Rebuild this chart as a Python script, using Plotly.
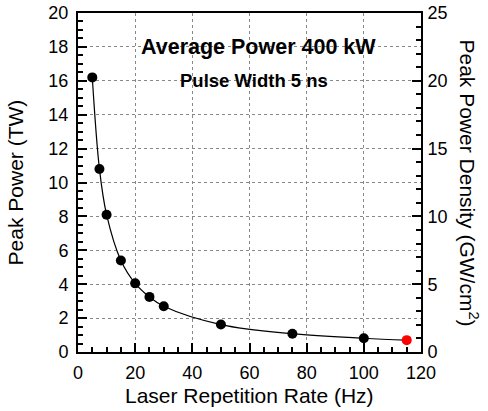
import plotly.graph_objects as go

rate_hz = [5, 7.5, 10, 15, 20, 25, 30, 50, 75, 100, 115]
peak_tw = [16.2, 10.8, 8.1, 5.4, 4.05, 3.25, 2.7, 1.62, 1.08, 0.81, 0.7]
marker_colors = ["black"] * 10 + ["red"]

x_range = [0, 120]
y_range = [0, 20]
y2_range = [0, 25]

FONT = "Liberation Sans, Arial, sans-serif"

fig = go.Figure()
fig.add_trace(go.Scatter(x=rate_hz, y=peak_tw, mode="lines",
                         line=dict(color="black", width=1.2, shape="spline", smoothing=1.0),
                         showlegend=False, hoverinfo="skip"))
fig.add_trace(go.Scatter(x=rate_hz, y=peak_tw, mode="markers",
                         marker=dict(color=marker_colors, size=10),
                         showlegend=False))
fig.add_trace(go.Scatter(x=[0], y=[0], yaxis="y2", mode="markers",
                         marker=dict(opacity=0), showlegend=False, hoverinfo="skip"))

axis_common = dict(showline=True, linecolor="black", linewidth=2, ticks="inside",
                   tickcolor="black", tickwidth=1.5, ticklen=9,
                   tickfont=dict(size=18, color="black", family=FONT),
                   zeroline=False, automargin=False)

fig.update_layout(
    width=488, height=411,
    margin=dict(l=78, r=67, t=13, b=59, autoexpand=False),
    plot_bgcolor="white", paper_bgcolor="white",
    font=dict(family=FONT, color="black"),
    xaxis=dict(range=x_range, dtick=20, mirror=True,
               showgrid=True, gridcolor="#888888", griddash="dot", gridwidth=1,
               minor=dict(ticks="inside", dtick=5, ticklen=5, tickcolor="black", showgrid=False),
               ticklabelstandoff=3,
               **axis_common),
    yaxis=dict(range=y_range, dtick=2,
               showgrid=True, gridcolor="#888888", griddash="dot", gridwidth=1,
               minor=dict(ticks="inside", dtick=0.5, ticklen=5, tickcolor="black", showgrid=False),
               ticklabelstandoff=4,
               **axis_common),
    yaxis2=dict(range=y2_range, dtick=5, overlaying="y", side="right", showgrid=False,
                minor=dict(ticks="inside", dtick=1, ticklen=5, tickcolor="black"),
                ticklabelstandoff=1,
                **axis_common),
    annotations=[
        dict(text="<b>Average Power 400 kW</b>", x=0.525, y=0.90, xref="paper", yref="paper",
             showarrow=False, font=dict(size=21.5, color="black"), xanchor="center", yanchor="middle"),
        dict(text="<b>Pulse Width 5 ns</b>", x=0.512, y=0.80, xref="paper", yref="paper",
             showarrow=False, font=dict(size=18.5, color="black"), xanchor="center", yanchor="middle"),
        dict(text="Laser Repetition Rate (Hz)", x=0.501, y=-0.128, xref="paper", yref="paper",
             showarrow=False, font=dict(size=21, color="black"), xanchor="center", yanchor="middle"),
        dict(text="Peak Power (TW)", x=-0.181, y=0.5, xref="paper", yref="paper",
             showarrow=False, textangle=-90, font=dict(size=21, color="black"), xanchor="center", yanchor="middle"),
        dict(text="Peak Power Density (GW/cm<sup>2</sup>)", x=1.14, y=0.5, xref="paper", yref="paper",
             showarrow=False, textangle=90, font=dict(size=21, color="black"), xanchor="center", yanchor="middle"),
    ],
)

fig.write_html("out.html")
